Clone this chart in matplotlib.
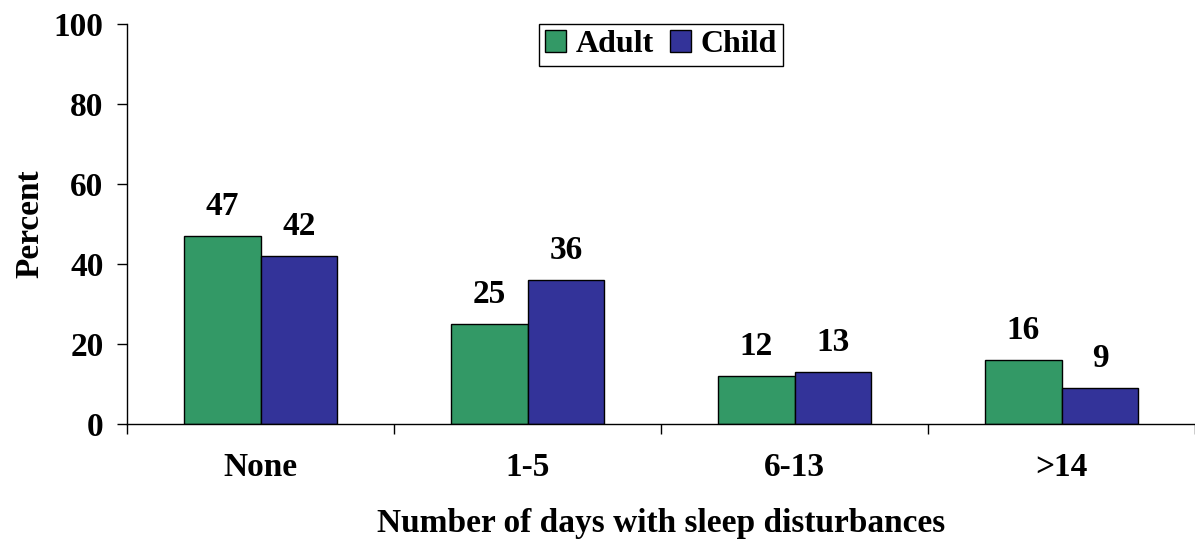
import matplotlib as mpl

mpl.use("Agg")

import matplotlib.pyplot as plt
import numpy as np

categories = ["None", "1-5", "6-13", ">14"]
adult = [47, 25, 12, 16]
child = [42, 36, 13, 9]
y_ticks = [0, 20, 40, 60, 80, 100]

GREEN = "#339966"
BLUE = "#333399"

plt.rcParams["font.family"] = ["Liberation Serif", "DejaVu Serif"]
plt.rcParams["font.weight"] = "bold"

fig = plt.figure(figsize=(11.95, 5.4), dpi=100)
ax = fig.add_axes([0.1063, 0.2148, 0.8937, 0.7408])

x = np.arange(len(categories))
width = 0.288
b1 = ax.bar(x - width / 2, adult, width, color=GREEN, edgecolor="black", linewidth=1.0, label="Adult")
b2 = ax.bar(x + width / 2, child, width, color=BLUE, edgecolor="black", linewidth=1.0, label="Child")

for bars, vals in ((b1, adult), (b2, child)):
    for rect, v in zip(bars, vals):
        ax.annotate(str(v), (rect.get_x() + rect.get_width() / 2, rect.get_height()),
                    xytext=(0, 10), textcoords="offset points", ha="center", va="bottom",
                    fontsize=24, fontweight="bold")

ax.set_xlim(-0.5, len(categories) - 0.5)
ax.set_ylim(0, 100)
ax.set_yticks(y_ticks)
ax.tick_params(axis="y", length=7, width=1, labelsize=24, pad=10)

ax.set_xticks(x)
ax.set_xticklabels(categories)
ax.tick_params(axis="x", which="major", length=0, labelsize=24, pad=20)
ax.set_xticks(np.arange(len(categories) + 1) - 0.5, minor=True)
ax.tick_params(axis="x", which="minor", length=7, width=1)

for s in ("top", "right"):
    ax.spines[s].set_visible(False)
ax.spines["left"].set_linewidth(1)
ax.spines["bottom"].set_linewidth(1)

ax.set_ylabel("Percent", fontsize=24, fontweight="bold", labelpad=6)
ax.set_xlabel("Number of days with sleep disturbances", fontsize=24, fontweight="bold", labelpad=18)

leg = ax.legend(loc="upper center", bbox_to_anchor=(0.5, 1.0), ncol=2, fontsize=23,
                frameon=True, fancybox=False, edgecolor="black", framealpha=1,
                handlelength=0.65, handleheight=0.65, handletextpad=0.3, columnspacing=0.5,
                borderpad=0.2, borderaxespad=0)
leg.get_frame().set_linewidth(1)

fig.savefig("out.png", dpi=100)
